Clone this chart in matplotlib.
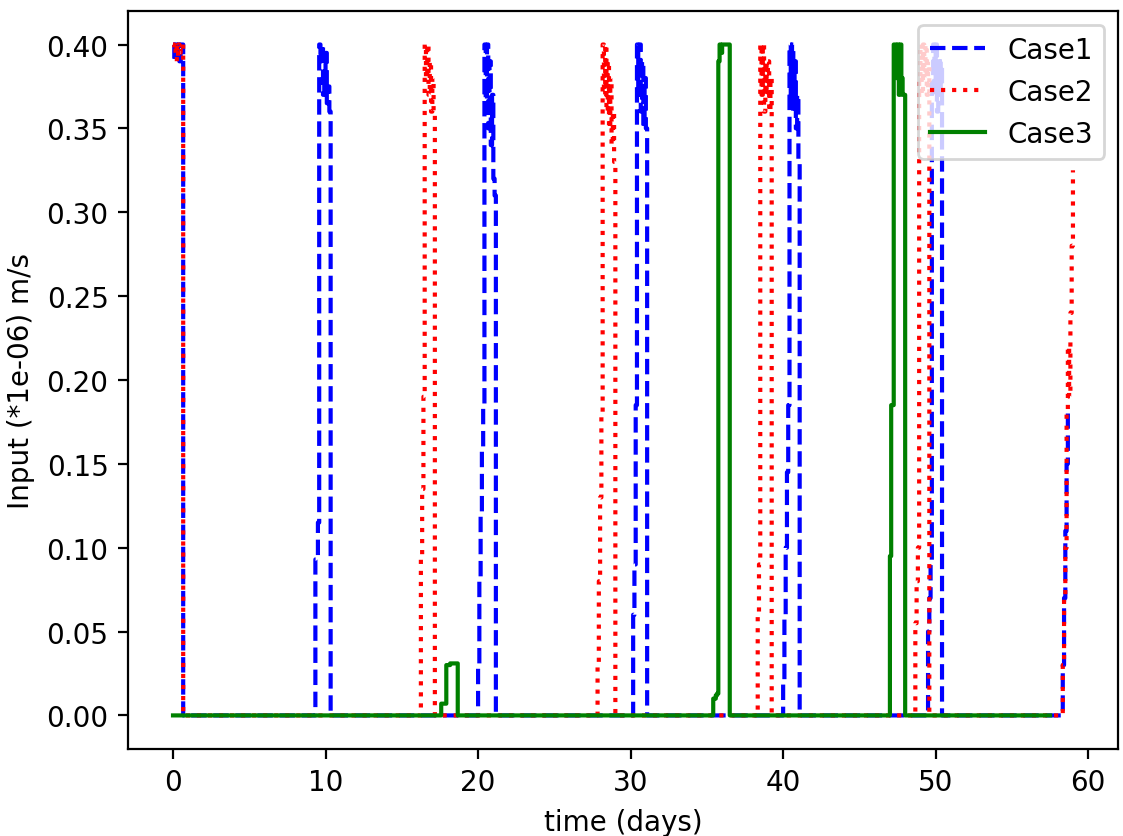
import matplotlib
matplotlib.use("Agg")
import matplotlib.pyplot as plt
import numpy as np

# control step is 2 hours
DT = 1.0 / 12

# Case1: pulse start (days), pulse values, end of record
case1_starts = [0.0, 9.33, 20.0, 30.17, 40.0, 49.5, 58.33]
case1_pulses = [
    [0.40, 0.39, 0.40, 0.395, 0.40, 0.39, 0.40, 0.40],
    [0.093, 0.093, 0.115, 0.40, 0.39, 0.40, 0.37, 0.38, 0.395, 0.365, 0.375, 0.36],
    [0.03, 0.08, 0.12, 0.16, 0.185, 0.40, 0.36, 0.40, 0.35, 0.39, 0.34, 0.37, 0.32, 0.31],
    [0.06, 0.09, 0.185, 0.40, 0.37, 0.40, 0.36, 0.39, 0.35, 0.38, 0.35],
    [0.02, 0.06, 0.10, 0.145, 0.185, 0.40, 0.37, 0.40, 0.36, 0.39, 0.35, 0.37, 0.33],
    [0.05, 0.07, 0.09, 0.38, 0.40, 0.37, 0.40, 0.36, 0.39, 0.37, 0.39],
    [0.03, 0.07, 0.11, 0.15, 0.18],
]
case1_end = 58.67

# Case2
case2_starts = [0.0, 16.25, 27.83, 38.33, 48.67, 58.33]
case2_pulses = [
    [0.40, 0.395, 0.40, 0.39, 0.40, 0.395, 0.40, 0.40],
    [0.095, 0.135, 0.19, 0.40, 0.38, 0.40, 0.37, 0.39, 0.36, 0.38, 0.36],
    [0.03, 0.08, 0.13, 0.18, 0.40, 0.37, 0.40, 0.36, 0.39, 0.35, 0.38, 0.34, 0.36, 0.33],
    [0.06, 0.09, 0.40, 0.37, 0.40, 0.36, 0.39, 0.37, 0.39, 0.36, 0.38],
    [0.055, 0.08, 0.10, 0.38, 0.40, 0.37, 0.40, 0.38, 0.40, 0.37, 0.39],
    [0.03, 0.07, 0.10, 0.18, 0.22, 0.19, 0.24, 0.28, 0.325],
]
case2_end = 59.0

# Case3
case3_starts = [17.58, 35.42, 47.0]
case3_pulses = [
    [0.007, 0.007, 0.007, 0.007, 0.03, 0.03, 0.03, 0.031, 0.031, 0.031, 0.031, 0.031, 0.031],
    [0.010, 0.010, 0.012, 0.013, 0.39, 0.40, 0.395, 0.40, 0.40, 0.40, 0.40, 0.40, 0.40],
    [0.095, 0.185, 0.185, 0.40, 0.40, 0.38, 0.40, 0.37, 0.40, 0.38, 0.37, 0.37],
]
case3_end = 57.5


def build(starts, pulses, end):
    n = int(round(end / DT))
    u = np.zeros(n + 1)
    for s, vals in zip(starts, pulses):
        i = int(round(s / DT))
        u[i:i + len(vals)] = vals[:len(u) - i]
    t = np.arange(n + 1) * DT
    return t, u


DPI = 200
fig = plt.figure(figsize=(1123 / DPI, 837 / DPI), dpi=DPI)
ax = fig.add_subplot(111)
fig.subplots_adjust(left=0.114, right=0.9955, top=0.9857, bottom=0.104)

t1, u1 = build(case1_starts, case1_pulses, case1_end)
t2, u2 = build(case2_starts, case2_pulses, case2_end)
t3, u3 = build(case3_starts, case3_pulses, case3_end)

ax.step(t1, u1, 'b--', where='post', label='Case1')
ax.step(t2, u2, 'r:', where='post', label='Case2')
ax.step(t3, u3, 'g-', where='post', label='Case3')

ax.set_xlabel('time (days)')
ax.set_ylabel('Input (*1e-06) m/s')
ax.legend(loc='upper right')

fig.savefig('out.png', dpi=DPI)
